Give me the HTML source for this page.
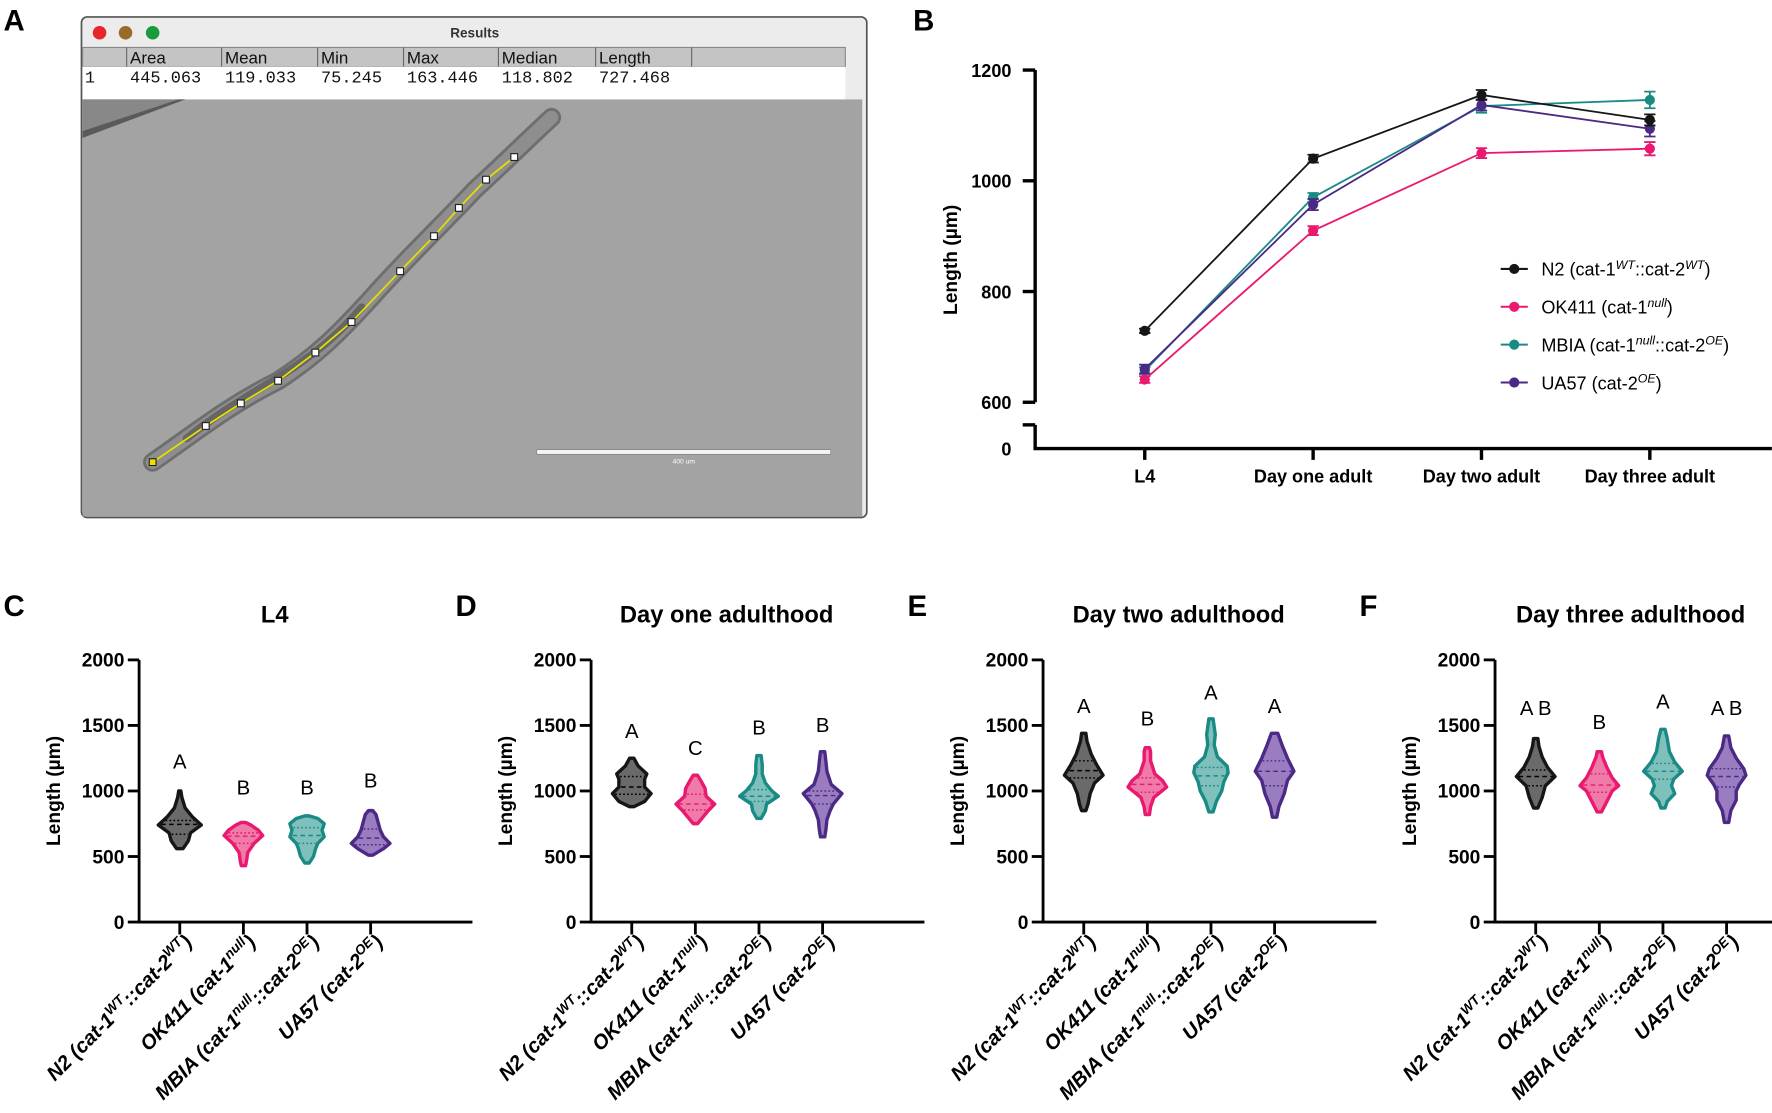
<!DOCTYPE html>
<html><head><meta charset="utf-8"><style>
html,body{margin:0;padding:0;background:#fff;}
svg{display:block;}
.t{font-family:"Liberation Sans",Arial,sans-serif;}
.n{font-family:"Liberation Sans Narrow","Liberation Sans",Arial,sans-serif;font-weight:bold;}
</style></head><body>
<svg id="fig" width="1772" height="1113" viewBox="0 0 1568 985" xmlns="http://www.w3.org/2000/svg">
<!-- Panel A -->
<g>
<text class="t" x="3" y="27" font-size="26" font-weight="bold">A</text>
<rect x="72" y="15" width="695" height="443" fill="#ececec" stroke="#555" stroke-width="1.5" rx="5"/>
<circle cx="88" cy="29" r="6" fill="#e8262a"/>
<circle cx="111" cy="29" r="6" fill="#9a6a2a"/>
<circle cx="135" cy="29" r="6" fill="#1a9a3a"/>
<text class="t" x="420" y="33" font-size="12" font-weight="bold" fill="#333" text-anchor="middle">Results</text>
<rect x="73" y="42" width="675" height="17" fill="#c4c4c4" stroke="#888" stroke-width="1"/>
<rect x="73" y="59" width="675" height="29" fill="#fff"/>
<g stroke="#666" stroke-width="1">
<line x1="112" y1="42" x2="112" y2="59"/><line x1="196" y1="42" x2="196" y2="59"/><line x1="281" y1="42" x2="281" y2="59"/><line x1="357" y1="42" x2="357" y2="59"/><line x1="441" y1="42" x2="441" y2="59"/><line x1="527" y1="42" x2="527" y2="59"/><line x1="612" y1="42" x2="612" y2="59"/>
</g>
<g class="t" font-size="15" fill="#111">
<text x="115" y="56">Area</text><text x="199" y="56">Mean</text><text x="284" y="56">Min</text><text x="360" y="56">Max</text><text x="444" y="56">Median</text><text x="530" y="56">Length</text>
</g>
<g font-family="'Liberation Mono',monospace" font-size="15" fill="#111">
<text x="75" y="73">1</text><text x="115" y="73">445.063</text><text x="199" y="73">119.033</text><text x="284" y="73">75.245</text><text x="360" y="73">163.446</text><text x="444" y="73">118.802</text><text x="530" y="73">727.468</text>
</g>
<rect x="73" y="88" width="690" height="369" fill="#a3a3a3"/>
<polygon points="73,88 158,88 73,120" fill="#888"/>
<polygon points="73,116 158,88 164,88 73,122" fill="#5a5a5a"/>
<path d="M135,409 C170,385 200,360 246,337 C280,315 300,295 330,262 C360,228 400,190 420,168 C440,150 460,130 488,104" fill="none" stroke="#6e6e6e" stroke-width="17" stroke-linecap="round"/>
<path d="M135,409 C170,385 200,360 246,337 C280,315 300,295 330,262 C360,228 400,190 420,168 C440,150 460,130 488,104" fill="none" stroke="#8e8e8e" stroke-width="12" stroke-linecap="round"/>
<path d="M165,388 C200,360 230,345 260,325 C285,308 300,295 320,272" fill="none" stroke="#666" stroke-width="7" stroke-linecap="round"/>
<polyline points="135,409 182,377 213,357 246,337 279,312 311,285 354,240 384,209 406,184 430,159 455,139" fill="none" stroke="#e8e000" stroke-width="1.5"/>
<g fill="#fff" stroke="#222" stroke-width="1">
<rect x="179" y="374" width="6" height="6"/><rect x="210" y="354" width="6" height="6"/><rect x="243" y="334" width="6" height="6"/><rect x="276" y="309" width="6" height="6"/><rect x="308" y="282" width="6" height="6"/><rect x="351" y="237" width="6" height="6"/><rect x="381" y="206" width="6" height="6"/><rect x="403" y="181" width="6" height="6"/><rect x="427" y="156" width="6" height="6"/><rect x="452" y="136" width="6" height="6"/>
</g>
<rect x="132" y="406" width="6" height="6" fill="#f0e000" stroke="#222" stroke-width="1"/>
<rect x="475" y="398" width="260" height="4" fill="#f4f4f4" stroke="#777" stroke-width="0.5"/>
<text class="t" x="605" y="410" font-size="6" fill="#fff" text-anchor="middle">400 um</text>
</g>
<!-- Panel B static -->
<g>
<text class="t" x="808" y="27" font-size="26" font-weight="bold">B</text>
<text class="t" transform="translate(847,230) rotate(-90)" font-size="17" font-weight="bold" text-anchor="middle">Length (µm)</text>
<g id="plotB"></g>
</g>
<g id="panels"></g>
</svg>
<script>
// ---------- Panel B data ----------
const stagesB = ["L4", "Day one adult", "Day two adult", "Day three adult"];
const n2Vals = [729, 1040, 1155, 1110];
const ok411Vals = [641, 910, 1050, 1058];
const mbiaVals = [657, 970, 1135, 1146];
const ua57Vals = [660, 957, 1137, 1094];
const n2Err = [4, 7, 9, 10];
const ok411Err = [6, 8, 9, 12];
const mbiaErr = [6, 8, 12, 15];
const ua57Err = [8, 10, 10, 14];
const yTicksB = [600, 800, 1000, 1200];
const seriesNames = ["N2", "OK411", "MBIA", "UA57"];

// ---------- Panels C-F data ----------
const panelTitles = ["L4", "Day one adulthood", "Day two adulthood", "Day three adulthood"];
const panelLetters = ["C", "D", "E", "F"];
const yTicksV = [0, 500, 1000, 1500, 2000];
const vVals = [
 [[560,620,680,740,800,870,950,1000],[430,470,530,600,660,700,740,760],[450,500,560,600,650,700,750,790,810],[510,560,600,650,700,760,820,850]],
 [[880,920,980,1030,1090,1130,1190,1250],[750,800,850,900,960,1020,1080,1120],[790,850,900,960,1000,1060,1130,1200,1270],[650,700,780,850,900,980,1050,1150,1230,1300]],
 [[850,900,980,1060,1120,1200,1280,1380,1440],[820,880,950,1030,1080,1130,1230,1300,1330],[840,920,1000,1070,1140,1190,1260,1350,1430,1550],[800,880,980,1080,1150,1250,1350,1440]],
 [[870,950,1040,1110,1180,1260,1340,1400],[840,920,1000,1040,1100,1180,1260,1300],[870,920,980,1040,1090,1150,1220,1300,1400,1470],[760,850,930,1000,1050,1120,1170,1250,1330,1420]]
];
const vDens = [
 [[.15,.4,.5,1,.6,.25,.1,.05],[.1,.15,.2,.5,.9,.7,.35,.1],[.1,.3,.4,.5,.8,.7,.8,.5,.1],[.1,.6,.9,.6,.45,.35,.25,.1]],
 [[.1,.6,.9,.6,.6,.7,.3,.1],[.1,.35,.6,.9,.5,.45,.25,.1],[.1,.3,.35,.9,.6,.3,.15,.15,.1],[.1,.15,.2,.35,.5,.9,.4,.2,.15,.1]],
 [[.1,.2,.3,.5,.9,.6,.35,.15,.1],[.1,.15,.3,.9,.7,.35,.15,.15,.1],[.1,.25,.5,.6,.8,.75,.3,.15,.2,.1],[.1,.2,.45,.6,.9,.6,.35,.15]],
 [[.1,.3,.45,.9,.55,.3,.15,.1],[.1,.35,.6,.9,.6,.35,.15,.1],[.1,.2,.55,.4,.5,.9,.55,.3,.2,.1],[.1,.2,.45,.45,.6,.9,.8,.45,.2,.1]]
];
const medians = [[745,655,660,640],[1030,900,960,965],[1155,1050,1115,1150],[1110,1045,1150,1110]];
const q1s = [[670,600,600,590],[975,855,920,900],[1100,990,1040,1040],[1040,990,1090,1030]];
const q3s = [[775,680,720,710],[1110,975,1010,1000],[1230,1100,1180,1230],[1160,1130,1210,1170]];
const sigLetters = [["A","B","B","B"],["A","C","B","B"],["A","B","A","A"],["A B","B","A","A B"]];
const sigY = [[1172,974,974,1026],[1405,1276,1431,1448],[1595,1500,1698,1595],[1578,1474,1629,1578]];

const NS = "http://www.w3.org/2000/svg";
const strokeCols = ["#161616", "#e8196e", "#1a8a85", "#4b2a85"];
const fillCols = ["#6a6a6a", "#f07aa8", "#7fc0bc", "#9a7cc0"];
function mk(tag, attrs, parent) {
  const e = document.createElementNS(NS, tag);
  for (const k in attrs) e.setAttribute(k, attrs[k]);
  parent.appendChild(e);
  return e;
}

// ---------- Panel B ----------
const gB = document.getElementById("plotB");
const xB = i => 1013 + i * 149;
const yB = v => 356 - (v - 600) * 0.49;
const axB = mk("path", {d: "M916,62 L916,356 M916,376 L916,397 L1568,397", fill: "none", stroke: "#000", "stroke-width": 3}, gB);


mk("path", {d: "M905,376 L916,376", stroke: "#000", "stroke-width": 3}, gB);
yTicksB.forEach(t => {
  mk("line", {x1: 905, x2: 916, y1: yB(t), y2: yB(t), stroke: "#000", "stroke-width": 3}, gB);
  const tx = mk("text", {x: 895, y: yB(t) + 6, "font-size": 16, "text-anchor": "end", class: "n"}, gB);
  tx.textContent = t;
  
  
});
const z = mk("text", {x: 895, y: 403, "font-size": 16, "text-anchor": "end", class: "n"}, gB);
z.textContent = "0";


stagesB.forEach((s, i) => {
  mk("line", {x1: xB(i), x2: xB(i), y1: 397, y2: 407, stroke: "#000", "stroke-width": 3}, gB);
  const tx = mk("text", {x: xB(i), y: 427, "font-size": 16, "text-anchor": "middle", class: "n"}, gB);
  tx.textContent = s;
  
  
});
const allVals = [n2Vals, ok411Vals, mbiaVals, ua57Vals];
const allErr = [n2Err, ok411Err, mbiaErr, ua57Err];
[2, 3, 1, 0].forEach(si => {
  const vals = allVals[si], errs = allErr[si], c = strokeCols[si];
  const pl = mk("polyline", {points: vals.map((v, i) => xB(i) + "," + yB(v)).join(" "), fill: "none", stroke: c, "stroke-width": 1.6}, gB);
  
  
  vals.forEach((v, i) => {
    const x = xB(i);
    mk("path", {d: `M${x},${yB(v + errs[i])} L${x},${yB(v - errs[i])} M${x - 5},${yB(v + errs[i])} L${x + 5},${yB(v + errs[i])} M${x - 5},${yB(v - errs[i])} L${x + 5},${yB(v - errs[i])}`, stroke: c, "stroke-width": 1.6}, gB);
    const pt = mk("circle", {cx: x, cy: yB(v), r: 4.5, fill: c}, gB);
    
    
  });
});
const legendHtml = [
  ["N2 (cat-1", "WT", "::cat-2", "WT", ")"],
  ["OK411 (cat-1", "null", ")"],
  ["MBIA (cat-1", "null", "::cat-2", "OE", ")"],
  ["UA57 (cat-2", "OE", ")"]
];
legendHtml.forEach((parts, i) => {
  const y = 238 + i * 33.5;
  const lg = mk("g", {}, gB);
  
  
  mk("line", {x1: 1328, x2: 1352, y1: y, y2: y, stroke: strokeCols[i], "stroke-width": 1.8}, lg);
  mk("circle", {cx: 1340, cy: y, r: 4.5, fill: strokeCols[i]}, lg);
  const tx = mk("text", {x: 1364, y: y + 6, "font-size": 16, class: "t"}, lg);
  parts.forEach((p, k) => {
    const ts = mk("tspan", k % 2 ? {"font-size": 11, dy: -6, "font-style": "italic"} : {"font-size": 16, dy: k ? 6 : 0}, tx);
    ts.textContent = p;
  });
});

// ---------- Panels C-F ----------
const gP = document.getElementById("panels");
const xLabels = [
  ["N2 (cat-1", "WT", "::cat-2", "WT", ")"],
  ["OK411 (cat-1", "null", ")"],
  ["MBIA (cat-1", "null", "::cat-2", "OE", ")"],
  ["UA57 (cat-2", "OE", ")"]
];
function interp(vs, ds, v) {
  if (v <= vs[0]) return ds[0];
  for (let i = 1; i < vs.length; i++) if (v <= vs[i]) { const f = (v - vs[i - 1]) / (vs[i] - vs[i - 1]); return ds[i - 1] + f * (ds[i] - ds[i - 1]); }
  return ds[ds.length - 1];
}
panelTitles.forEach((title, p) => {
  const ox = p * 400;
  const ax = 123 + ox;
  const yV = v => 816 - v * 0.116;
  const xV = i => ax + 36 + i * 56.3;
  const g = mk("g", {}, gP);
  
  
  const lt = mk("text", {x: 3 + ox, y: 545, "font-size": 26, "font-weight": "bold", class: "t"}, g);
  lt.textContent = panelLetters[p];
  
  
  const tt = mk("text", {x: ax + 120, y: 551, "font-size": 21, "text-anchor": "middle", class: "n"}, g);
  tt.textContent = title;
  
  
  const yt = mk("text", {transform: `translate(${ax - 70},700) rotate(-90)`, "font-size": 17, "font-weight": "bold", "text-anchor": "middle", class: "t"}, g);
  yt.textContent = "Length (µm)";
  
  
  const axl = mk("path", {d: `M${ax},${yV(2000)} L${ax},816 L${ax + 295},816`, fill: "none", stroke: "#000", "stroke-width": 2.5}, g);
  
  
  yTicksV.forEach(t => {
    mk("line", {x1: ax - 10, x2: ax, y1: yV(t), y2: yV(t), stroke: "#000", "stroke-width": 2.5}, g);
    const tx = mk("text", {x: ax - 13, y: yV(t) + 6, "font-size": 17, "text-anchor": "end", class: "n"}, g);
    tx.textContent = t;
    
    
  });
  for (let i = 0; i < 4; i++) {
    const cx = xV(i);
    mk("line", {x1: cx, x2: cx, y1: 816, y2: 827, stroke: "#000", "stroke-width": 2.5}, g);
    const lbl = mk("text", {transform: `translate(${cx + 12},835) rotate(-45)`, "font-size": 18, "font-weight": "bold", "font-style": "italic", "text-anchor": "end", class: "t"}, g);
    
    
    xLabels[i].forEach((pt, k) => {
      const ts = mk("tspan", k % 2 ? {"font-size": 12, dy: -7} : {"font-size": 18, dy: k ? 7 : 0}, lbl);
      ts.textContent = pt;
    });
    const vs = vVals[p][i], ds = vDens[p][i], W = 19;
    const right = vs.map((v, k) => `${cx + ds[k] * W},${yV(v)}`);
    const left = vs.map((v, k) => `${cx - ds[k] * W},${yV(v)}`).reverse();
    const vio = mk("polygon", {points: right.concat(left).join(" "), fill: fillCols[i], stroke: strokeCols[i], "stroke-width": 3, "stroke-linejoin": "round"}, g);
    
    
    const lc = i === 0 ? "#000" : strokeCols[i];
    [[medians[p][i], "4,3"], [q1s[p][i], "1.5,2"], [q3s[p][i], "1.5,2"]].forEach(([v, da]) => {
      const w = interp(vs, ds, v) * W - 2;
      mk("line", {x1: cx - w, x2: cx + w, y1: yV(v), y2: yV(v), stroke: lc, "stroke-width": 1.3, "stroke-dasharray": da}, g);
    });
    const sl = mk("text", {x: cx, y: yV(sigY[p][i]), "font-size": 18, "text-anchor": "middle", class: "t"}, g);
    sl.textContent = sigLetters[p][i];
    
    
  }
});
</script>
</body></html>
